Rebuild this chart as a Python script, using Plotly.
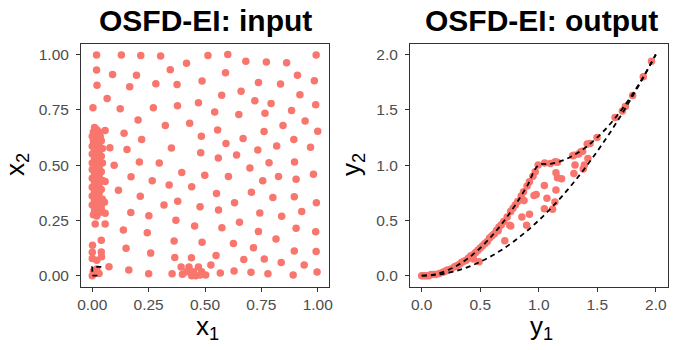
import plotly.graph_objects as go

# Eingabe-Design (x1, x2)
x1 = [0.019, 0.129, 0.215, 0.303, 0.513, 0.601, 0.993, 0.418, 0.681, 0.772, 0.862,
      0.019, 0.346, 0.090, 0.196, 0.591, 0.910, 0.021, 0.166, 0.282, 0.376, 0.487,
      0.737, 0.835, 0.985, 0.066, 0.574, 0.660, 0.721, 0.793, 0.921, 0.471, 0.378,
      0.991, 0.003, 0.124, 0.271, 0.543, 0.650, 0.766, 0.884, 0.203, 0.324, 0.432,
      0.556, 0.762, 0.846, 0.944, 1.000, 0.057, 0.141, 0.484, 0.219, 0.669, 0.894,
      0.968, 0.818, 0.593, 0.734, 0.351, 0.481, 0.154, 0.078, 0.640, 0.559, 0.784,
      0.897, 0.209, 0.297, 0.097, 0.699, 0.397, 0.499, 0.604, 0.756, 0.826, 0.904,
      0.981, 0.172, 0.266, 0.341, 0.441, 0.116, 0.551, 0.706, 0.801, 0.896, 0.213,
      0.379, 0.318, 0.478, 0.560, 0.631, 0.994, 0.171, 0.251, 0.371, 0.743, 0.840,
      0.929, 0.454, 0.575, 0.653, 0.138, 0.244, 0.737, 0.904, 0.991, 0.363, 0.487,
      0.626, 0.815, 0.150, 0.259, 0.715, 0.896, 0.993, 0.366, 0.440, 0.549, 0.672,
      0.763, 0.838, 0.940, 0.526, 0.074, 0.162, 0.250, 0.354, 0.394, 0.429, 0.471,
      0.400, 0.441, 0.459, 0.478, 0.503, 0.568, 0.629, 0.704, 0.779, 0.891, 0.997,
      0.419, 0.449, 0.485,
      0.057, 0.054, 0.057, 0.013, 0.057,
      0.040, 0.001, 0.040, 0.000, 0.000, 0.041, 0.020, 0.005, 0.020, 0.000, 0.030,
      0.010, 0.020, 0.005, 0.030, 0.015, 0.000, 0.035, 0.020, 0.005, 0.040, 0.015,
      0.030, 0.000, 0.020, 0.045, 0.010, 0.030, 0.000, 0.020, 0.040, 0.010, 0.030,
      0.000, 0.045, 0.015, 0.030, 0.000, 0.020, 0.040, 0.010, 0.030, 0.000, 0.020,
      0.045, 0.010, 0.030, 0.000, 0.020, 0.040, 0.010, 0.030, 0.000, 0.020, 0.045,
      0.010, 0.030, 0.000, 0.020, 0.040, 0.010, 0.030, 0.005, 0.020]
x2 = [0.998, 0.998, 0.996, 0.993, 0.996, 1.000, 0.998, 0.961, 0.970, 0.966, 0.963,
      0.930, 0.931, 0.910, 0.906, 0.918, 0.906, 0.861, 0.854, 0.868, 0.864, 0.880,
      0.874, 0.867, 0.882, 0.801, 0.816, 0.834, 0.791, 0.779, 0.818, 0.782, 0.768,
      0.773, 0.759, 0.755, 0.759, 0.740, 0.729, 0.734, 0.747, 0.704, 0.679, 0.689,
      0.659, 0.652, 0.679, 0.700, 0.653, 0.656, 0.644, 0.631, 0.616, 0.620, 0.616,
      0.581, 0.586, 0.598, 0.568, 0.577, 0.556, 0.570, 0.578, 0.546, 0.532, 0.511,
      0.514, 0.514, 0.510, 0.499, 0.487, 0.466, 0.454, 0.448, 0.429, 0.448, 0.436,
      0.459, 0.447, 0.429, 0.410, 0.402, 0.386, 0.371, 0.377, 0.354, 0.357, 0.359,
      0.336, 0.320, 0.312, 0.297, 0.330, 0.330, 0.286, 0.271, 0.251, 0.283, 0.269,
      0.290, 0.224, 0.217, 0.242, 0.206, 0.194, 0.200, 0.214, 0.199, 0.157, 0.151,
      0.145, 0.166, 0.124, 0.102, 0.126, 0.112, 0.109, 0.082, 0.081, 0.091, 0.073,
      0.075, 0.060, 0.048, 0.048, 0.040, 0.025, 0.009, 0.009, 0.039, 0.039, 0.039,
      0.006, 0.000, 0.000, 0.003, 0.003, 0.012, 0.021, 0.015, 0.009, 0.003, 0.016,
      0.018, 0.018, 0.018,
      0.426, 0.332, 0.282, 0.234, 0.234,
      0.160, 0.137, 0.107, 0.106, 0.078, 0.085, 0.070, 0.020, 0.030, 0.000, 0.010,
      0.670, 0.660, 0.650, 0.650, 0.640, 0.630, 0.630, 0.620, 0.610, 0.610, 0.600,
      0.595, 0.585, 0.580, 0.575, 0.565, 0.560, 0.550, 0.545, 0.540, 0.530, 0.520,
      0.510, 0.510, 0.500, 0.490, 0.480, 0.475, 0.470, 0.460, 0.450, 0.440, 0.435,
      0.430, 0.420, 0.410, 0.400, 0.395, 0.390, 0.380, 0.370, 0.360, 0.350, 0.345,
      0.340, 0.330, 0.320, 0.310, 0.305, 0.295, 0.285, 0.275, 0.270]

# Ausgabe (y1, y2)
y1 = [0.00, 0.02, 0.04, 0.06, 0.08, 0.10, 0.12, 0.15, 0.18, 0.20, 0.22, 0.25, 0.28,
      0.30, 0.32, 0.34, 0.36, 0.38, 0.40, 0.42, 0.44, 0.46, 0.48, 0.50, 0.52, 0.54,
      0.56, 0.58, 0.60, 0.62, 0.64, 0.66, 0.68, 0.70, 0.73, 0.76, 0.78, 0.80, 0.82,
      0.85, 0.87, 0.90, 0.92, 0.95, 0.97, 0.995,
      0.49, 0.442, 0.71, 0.752, 0.761, 0.653, 0.896, 0.856, 0.921, 0.874, 0.960,
      0.978, 1.048, 1.118, 1.138, 1.070, 1.048, 1.147, 1.147, 1.160, 1.195, 1.050,
      1.100, 1.140, 1.160, 1.300, 1.310, 1.380, 1.390, 1.420, 1.290, 1.340, 1.300,
      1.360, 1.375, 1.414, 1.438, 1.498, 1.652, 1.715, 1.740, 1.802, 1.893, 1.963]
y2 = [0.00, 0.00, 0.00, 0.00, 0.01, 0.01, 0.01, 0.02, 0.03, 0.04, 0.05, 0.06, 0.08,
      0.09, 0.10, 0.12, 0.13, 0.14, 0.16, 0.18, 0.19, 0.21, 0.23, 0.25, 0.27, 0.29,
      0.31, 0.34, 0.36, 0.38, 0.41, 0.44, 0.46, 0.49, 0.53, 0.58, 0.61, 0.64, 0.67,
      0.72, 0.76, 0.81, 0.85, 0.90, 0.94, 1.00,
      0.126, 0.150, 0.315, 0.456, 0.450, 0.405, 0.456, 0.531, 0.555, 0.680, 0.726,
      0.735, 0.606, 0.600, 0.666, 0.700, 0.816, 0.774, 0.930, 0.885, 0.876, 1.020,
      1.015, 1.030, 1.025, 0.925, 1.000, 0.965, 1.000, 1.060, 1.085, 1.100, 1.090,
      1.120, 1.125, 1.190, 1.195, 1.250, 1.430, 1.490, 1.530, 1.630, 1.800, 1.940]

# gestrichelte Grenzen im Ausgaberaum
rand_y1 = [0.0, 0.1, 0.2, 0.3, 0.4, 0.5, 0.6, 0.7, 0.8, 0.9, 1.0,
           1.1, 1.2, 1.3, 1.4, 1.5, 1.6, 1.7, 1.8, 1.9, 2.0]
oben_y2 = [0.0, 0.01, 0.04, 0.09, 0.16, 0.25, 0.36, 0.49, 0.64, 0.81, 1.0,
           1.01, 1.04, 1.09, 1.16, 1.25, 1.36, 1.49, 1.64, 1.81, 2.0]
unten_y2 = [0.0, 0.005, 0.02, 0.045, 0.08, 0.125, 0.18, 0.245, 0.32, 0.405, 0.5,
            0.605, 0.72, 0.845, 0.98, 1.125, 1.28, 1.445, 1.62, 1.805, 2.0]

# kleine gestrichelte Markierung im Eingaberaum
mark_x1 = [0.04, 0.0, 0.0, 0.04]
mark_x2 = [0.04, 0.04, 0.0, 0.0]

punkt = "#F8766D"
dash = dict(color="black", width=1.8, dash="5px,4px")
tickfont = dict(family="Liberation Sans", size=15.5, color="#4D4D4D")

fig = go.Figure()
fig.add_trace(go.Scatter(x=x1, y=x2, mode="markers", marker=dict(color=punkt, size=7.5),
                         xaxis="x", yaxis="y"))
fig.add_trace(go.Scatter(x=mark_x1, y=mark_x2, mode="lines", line=dash, xaxis="x", yaxis="y"))
fig.add_trace(go.Scatter(x=y1, y=y2, mode="markers", marker=dict(color=punkt, size=7.5),
                         xaxis="x2", yaxis="y2"))
fig.add_trace(go.Scatter(x=rand_y1, y=oben_y2, mode="lines", line=dict(dash, shape="spline"),
                         xaxis="x2", yaxis="y2"))
fig.add_trace(go.Scatter(x=rand_y1, y=unten_y2, mode="lines", line=dict(dash, shape="spline"),
                         xaxis="x2", yaxis="y2"))

achse = dict(showgrid=False, zeroline=False, showline=True, mirror=True,
             linecolor="#333333", linewidth=1, ticks="outside", ticklen=4,
             tickcolor="#333333", tickfont=tickfont)

# Seite hat 8 px Rand -> Figur um 8 px kleiner, alle Pixelpositionen um 8 px verschoben
OFF = 8
W, H = 678 - OFF, 350 - OFF


def fx(px):
    return (px - OFF) / W


def fy(py):
    return 1 - (py - OFF) / H


fig.update_layout(
    width=W, height=H, margin=dict(l=0, r=0, t=0, b=0, autoexpand=False),
    plot_bgcolor="white", paper_bgcolor="white", showlegend=False,
    xaxis=dict(achse, domain=[fx(81), fx(329)], range=[-0.05, 1.05],
               tickvals=[0, 0.25, 0.5, 0.75, 1], ticktext=["0.00", "0.25", "0.50", "0.75", "1.00"]),
    yaxis=dict(achse, domain=[fy(286.7), fy(43.5)], range=[-0.05, 1.05], ticklabelstandoff=4,
               tickvals=[0, 0.25, 0.5, 0.75, 1], ticktext=["0.00", "0.25", "0.50", "0.75", "1.00"]),
    xaxis2=dict(achse, domain=[fx(410), fx(667.5)], range=[-0.1, 2.1], anchor="y2",
                tickvals=[0, 0.5, 1, 1.5, 2], ticktext=["0.0", "0.5", "1.0", "1.5", "2.0"]),
    yaxis2=dict(achse, domain=[fy(286.7), fy(43.5)], range=[-0.1, 2.1], anchor="x2",
                ticklabelstandoff=4,
                tickvals=[0, 0.5, 1, 1.5, 2], ticktext=["0.0", "0.5", "1.0", "1.5", "2.0"]),
)

titel = dict(family="Liberation Sans", size=30, color="black")
achsentitel = dict(family="Liberation Sans", size=26, color="black")
texte = [
    ("<b>OSFD-EI: input</b>", 205, 20, 0, titel),
    ("<b>OSFD-EI: output</b>", 541, 20, 0, titel),
    ("x<sub>1</sub>", 208, 327, 0, achsentitel),
    ("y<sub>1</sub>", 541, 327, 0, achsentitel),
    ("x<sub>2</sub>", 17, 165, -90, achsentitel),
    ("y<sub>2</sub>", 353, 165, -90, achsentitel),
]
for text, px, py, rot, font in texte:
    fig.add_annotation(text=text, x=fx(px), y=fy(py), xref="paper", yref="paper",
                       xanchor="center", yanchor="middle", showarrow=False,
                       textangle=rot, font=font)

fig.write_html("out.html")
